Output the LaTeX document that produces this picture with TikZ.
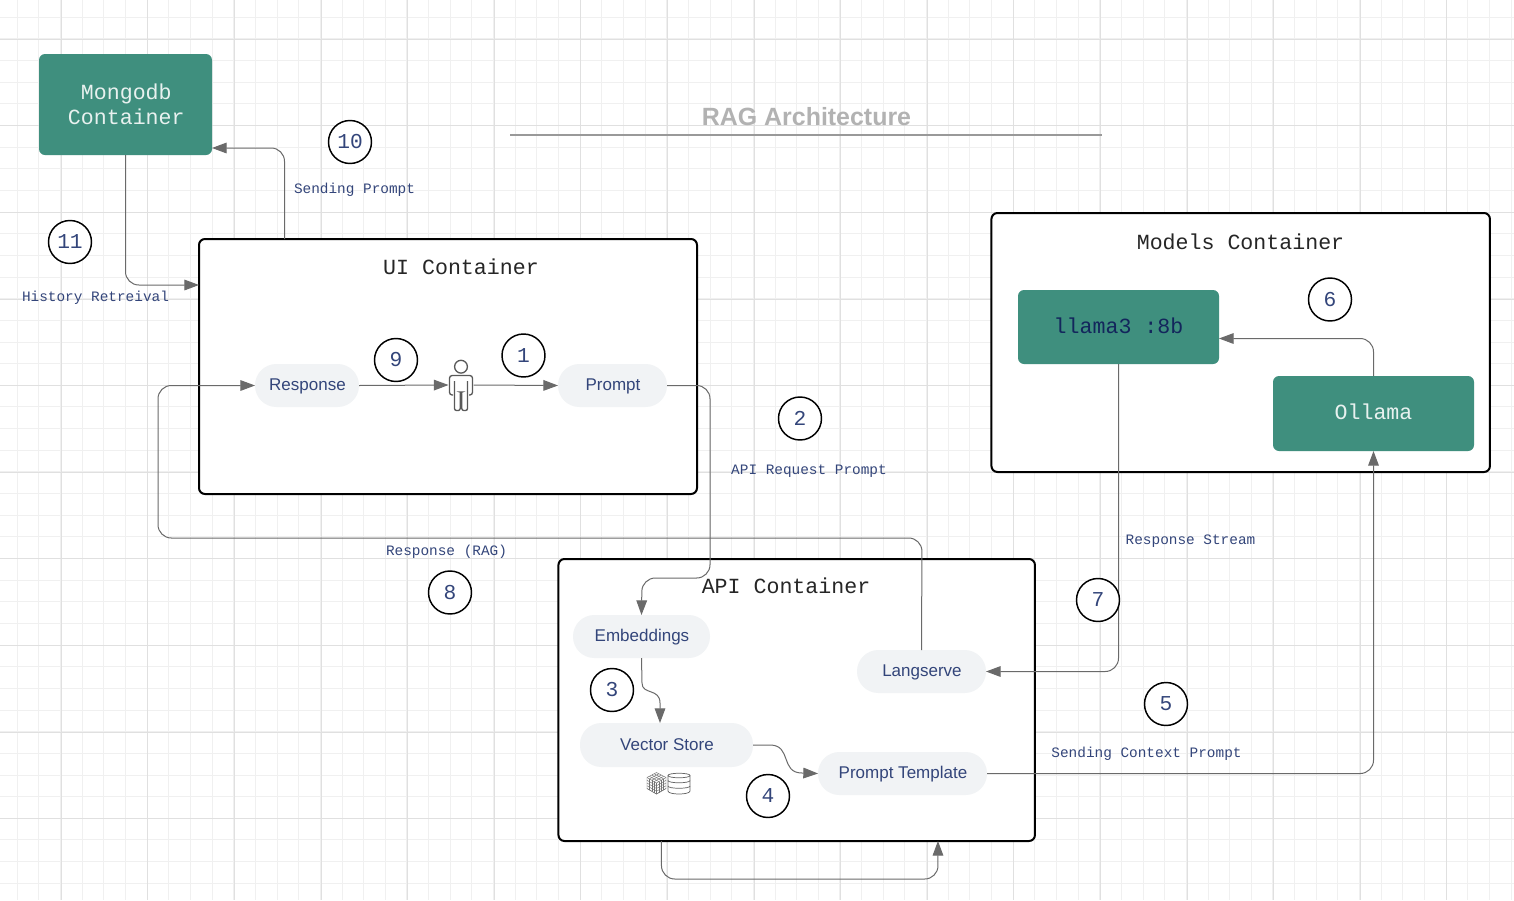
\documentclass[tikz,border=0pt]{standalone}
\usepackage{fontspec}
\setmainfont{Liberation Sans}
\setmonofont{Liberation Mono}
\usetikzlibrary{arrows.meta,calc}
\definecolor{gridminor}{HTML}{F0F0F0}
\definecolor{gridmajor}{HTML}{E0E0E0}
\definecolor{teal}{HTML}{3F8F7E}
\definecolor{pill}{HTML}{F1F3F5}
\definecolor{navy}{HTML}{33457A}
\definecolor{conn}{HTML}{6A6A6A}
\tikzset{
 sz/.style 2 args={minimum width=#1*0.75pt,minimum height=#2*0.75pt,inner sep=0pt,outer sep=0pt},
 container/.style={draw=black,fill=white,line width=1.5pt,rounded corners=4.5pt},
 greenbox/.style={fill=teal,rounded corners=4.5pt,text=white!88!teal,font=\ttfamily\fontsize{16.2}{18.8}\selectfont,align=center},
 pillbox/.style={fill=pill,rounded corners=16pt,text=navy,font=\fontsize{12.75}{15}\selectfont,text height=9.5pt,text depth=2pt},
 boxtitle/.style={text=black!85,font=\ttfamily\fontsize{16.2}{19}\selectfont},
 steplabel/.style={text=navy,font=\ttfamily\fontsize{10.8}{13}\selectfont},
 badge/.style={circle,draw=black,fill=white,line width=1.1pt,minimum size=43*0.75pt,inner sep=0pt,text=navy,font=\ttfamily\fontsize{15.9}{18}\selectfont},
 link/.style={draw=conn,line width=0.75pt,rounded corners=10pt,-{Triangle[length=11pt,width=8pt,fill=conn]}},
 icon/.style={draw=black!65,line width=1pt},
 iconthin/.style={draw=black!55,line width=0.35pt},
 cyl/.style={draw=black!60,line width=0.55pt}
}
\begin{document}
\begin{tikzpicture}[x=0.75pt,y=-0.75pt]
\useasboundingbox (0,0) rectangle (1514,900);
\fill[white] (0,0) rectangle (1514,900);
% grid
\foreach \k in {0,...,69} {\draw[gridminor,line width=0.75pt] ({floor(17.3+21.65*\k)+.5},0) -- ({floor(17.3+21.65*\k)+.5},900);}
\foreach \k in {0,...,41} {\draw[gridminor,line width=0.75pt] (0,{floor(17.3+21.65*\k)+.5}) -- (1514,{floor(17.3+21.65*\k)+.5});}
\foreach \k in {0,...,17} {\draw[gridmajor,line width=0.75pt] ({floor(61.3+86.6*\k)+.5},0) -- ({floor(61.3+86.6*\k)+.5},900);}
\foreach \k in {0,...,10} {\draw[gridmajor,line width=0.75pt] (0,{floor(39.3+86.6*\k)+.5}) -- (1514,{floor(39.3+86.6*\k)+.5});}
% title
\coordinate (ruleL) at (510,135);
\coordinate (ruleR) at (1102,135);
\draw[black!40,line width=0.8pt] (ruleL) -- (ruleR);
\node[text=black!30,font=\bfseries\fontsize{18.7}{22}\selectfont] (title) at (806.5,117) {RAG Architecture};
% containers
\node[container,sz={498}{255}] (ui) at (448,366.5) {};
\node[container,sz={498.5}{259}] (models) at (1240.7,342.5) {};
\node[container,sz={476.5}{282}] (api) at (796.7,700) {};
\node[boxtitle] (uit) at (461,267) {UI Container};
\node[boxtitle] (modt) at (1240.5,241.5) {Models Container};
\node[boxtitle] (apit) at (786,586) {API Container};
% green boxes
\node[greenbox,sz={173}{101}] (mongo) at (125.5,104.5) {\hspace{1.2pt}Mongodb\\\hspace{1.2pt}Container};
\node[greenbox,sz={201}{74}] (llama) at (1118.5,327) {\raisebox{2pt}{\color[HTML]{13265C}llama3 :8b}};
\node[greenbox,sz={201}{75}] (ollama) at (1373.5,413.5) {\raisebox{2.8pt}{Ollama}};
% pills
\node[pillbox,sz={104}{43}] (resp) at (307,385.5) {\hspace{0.7pt}Response};
\node[pillbox,sz={109}{43}] (prompt) at (612.5,385.5) {\hspace{0.7pt}Prompt};
\node[pillbox,sz={137}{43}] (emb) at (641.5,636.5) {\hspace{0.7pt}Embeddings};
\node[pillbox,sz={129}{43}] (lang) at (921.5,671.5) {\hspace{0.7pt}Langserve};
\node[pillbox,sz={173}{44}] (vec) at (666.5,745) {\hspace{0.7pt}Vector Store};
\node[pillbox,sz={169}{43}] (tmpl) at (902.5,773.5) {\hspace{0.7pt}Prompt Template};
% person
\node[sz={25}{52}] (person) at (461,385) {};
\draw[icon] (461,366.7) circle[radius=6.4];
\draw[icon,rounded corners=2pt] (453,395) -- (449.5,395) -- (449.5,375.5) -- (472.5,375.5) -- (472.5,395) -- (469,395);
\draw[icon,rounded corners=1.5pt] (454.5,381) -- (454.5,410.5) -- (460.2,410.5) -- (460.2,392) -- (461.8,392) -- (461.8,410.5) -- (467.5,410.5) -- (467.5,381);
% db icons
\node[sz={44}{24}] (dbicon) at (669,783) {};
\draw[iconthin,fill=white] (656.5,772.5) -- (666,777.5) -- (666,788.5) -- (656.5,794) -- (647,788.5) -- (647,777.5) -- cycle;
\foreach \t in {0.25,0.5,0.75,1} {
  \draw[iconthin] ($(647,777.5)!\t!(656.5,783)$) -- ($(647,788.5)!\t!(656.5,794)$);
  \draw[iconthin] ($(666,777.5)!\t!(656.5,783)$) -- ($(666,788.5)!\t!(656.5,794)$);
  \draw[iconthin] ($(647,777.5)!\t!(647,788.5)$) -- ($(656.5,783)!\t!(656.5,794)$) -- ($(666,777.5)!\t!(666,788.5)$);
  \draw[iconthin] ($(656.5,772.5)!\t!(647,777.5)$) -- ($(666,777.5)!\t!(656.5,783)$);
  \draw[iconthin] ($(656.5,772.5)!\t!(666,777.5)$) -- ($(647,777.5)!\t!(656.5,783)$);
}
\draw[cyl] (668,775.5) .. controls (668,772.5) and (690,772.5) .. (690,775.5) -- (690,791) .. controls (690,795) and (668,795) .. (668,791) -- cycle;
\draw[cyl] (668,775.5) .. controls (668,778.5) and (690,778.5) .. (690,775.5);
\draw[cyl] (668,780.5) .. controls (668,783.5) and (690,783.5) .. (690,780.5);
\draw[cyl] (668,786) .. controls (668,789) and (690,789) .. (690,786);
% connectors
\draw[link] ($(ui.north west)+(85.5,0)$) |- ($(mongo.south east)+(0,-7)$);
\draw[link] (mongo.south) |- ($(ui.west)+(0,-81.5)$);
\draw[link] (resp.east) -- (person.west);
\draw[link] (person.east) -- (prompt.west);
\coordinate (pa) at (710,385.5);
\coordinate (pb) at (710,578);
\coordinate (pc) at (642,578);
\draw[link] (prompt.east) -- (pa) -- (pb) -- (pc) -- (emb.north);
\coordinate (ra) at (922,538);
\coordinate (rb) at (158,538);
\coordinate (rc) at (158,385.5);
\draw[link] (lang.north) -- (ra) -- (rb) -- (rc) -- (resp.west);
\draw[link,rounded corners=0pt] (emb.south) -- (642,683) .. controls (642,695) and (660,688) .. (660,703) -- ($(vec.north)+(-6.5,0)$);
\draw[link,rounded corners=0pt] ($(vec.east)+(0,0)$) -- (770,745) .. controls (792,745) and (780,773) .. (802,773) -- (tmpl.west);
\coordinate (ta) at (1373.5,773.5);
\draw[link] (tmpl.east) -- (ta) -- (ollama.south);
\draw[link] (ollama.north) |- ($(llama.east)+(0,11.5)$);
\coordinate (la) at (1118.5,671.5);
\draw[link] (llama.south) -- (la) -- (lang.east);
\coordinate (aa) at (661.5,879);
\coordinate (ab) at (938,879);
\draw[link] ($(api.south west)+(103,0)$) -- (aa) -- (ab) -- ($(api.south west)+(379.5,0)$);
% step labels
\node[steplabel] (l10) at (354.5,189.5) {Sending Prompt};
\node[steplabel] (l11) at (95.5,297.5) {History Retreival};
\node[steplabel] (l2) at (809,471) {API Request Prompt};
\node[steplabel] (l8) at (446.5,551.5) {Response (RAG)};
\node[steplabel] (l7) at (1190.5,541) {Response Stream};
\node[steplabel] (l5) at (1146.5,753.5) {Sending Context Prompt};
% badges
\node[badge] (b1) at (523.5,355.5) {\raisebox{-1.5pt}{1}};
\node[badge] (b2) at (800,418.5) {\raisebox{-1.5pt}{2}};
\node[badge] (b3) at (612,690) {\raisebox{-1.5pt}{3}};
\node[badge] (b4) at (768,796) {\raisebox{-1.5pt}{4}};
\node[badge] (b5) at (1166,704) {\raisebox{-1.5pt}{5}};
\node[badge] (b6) at (1330,299.5) {\raisebox{-1.5pt}{6}};
\node[badge] (b7) at (1098,600) {\raisebox{-1.5pt}{7}};
\node[badge] (b8) at (450,592.5) {\raisebox{-1.5pt}{8}};
\node[badge] (b9) at (396,360) {\raisebox{-1.5pt}{9}};
\node[badge] (b10) at (350,142) {\raisebox{-1.5pt}{10}};
\node[badge] (b11) at (70,242) {\raisebox{-1.5pt}{11}};
\end{tikzpicture}
\end{document}
